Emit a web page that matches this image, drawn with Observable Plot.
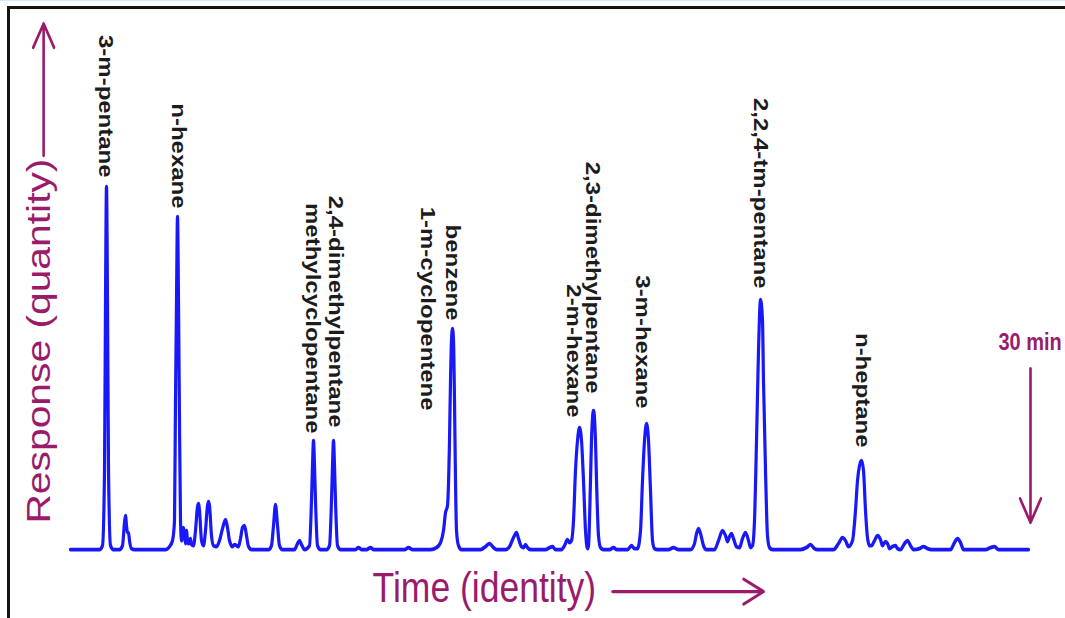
<!DOCTYPE html>
<html><head><meta charset="utf-8">
<script src="https://cdn.jsdelivr.net/npm/d3@7"></script>
<script src="https://cdn.jsdelivr.net/npm/@observablehq/plot@0.6"></script>
<style>
html,body{margin:0;padding:0;background:#fff;width:1065px;height:618px;overflow:hidden;}
#strip{position:absolute;left:0;top:0;width:1065px;height:1px;background:#c4f3fb;}
#frame{position:absolute;left:7px;top:6px;width:1100px;height:700px;border-top:3px solid #141414;border-left:3px solid #141414;}
#chart{position:absolute;left:0;top:0;}
</style></head><body>
<div id="strip"></div><div id="frame"></div><div id="chart"></div>
<script>
// Chromatogram trace: retention time (min) and detector response (arbitrary units)
const time = [0, 0.906, 1.0, 1.063, 1.094, 1.125, 1.156, 1.188, 1.25, 1.344,
  1.531, 1.625, 1.688, 1.719, 1.75, 1.781, 1.813, 1.844, 1.906, 2.0,
  2.969, 3.094, 3.188, 3.25, 3.281, 3.313, 3.344, 3.375, 3.406, 3.438, 3.469,
  3.531, 3.563, 3.594, 3.625, 3.656, 3.688, 3.75, 3.781, 3.844,
  3.906, 3.969, 4.0, 4.031, 4.094, 4.156, 4.219, 4.281, 4.313, 4.344, 4.406, 4.469,
  4.563, 4.656, 4.75, 4.844, 4.906, 4.969, 5.063, 5.125, 5.188, 5.25, 5.313, 5.375, 5.438, 5.5, 5.563, 5.656,
  6.188, 6.281, 6.344, 6.406, 6.469, 6.531, 6.625,
  7.0, 7.094, 7.156, 7.219, 7.313,
  7.469, 7.531, 7.563, 7.594, 7.625, 7.656, 7.719, 7.813,
  8.0, 8.094, 8.156, 8.188, 8.219, 8.25, 8.281, 8.344, 8.438,
  8.906, 9.0, 9.094, 9.25, 9.375, 9.469, 10.438, 10.563, 10.688,
  11.25, 11.438, 11.563, 11.656, 11.719, 11.781, 11.844, 11.875, 11.906, 11.938, 11.969, 12.0, 12.031, 12.063, 12.125, 12.219,
  12.813, 12.969, 13.094, 13.219, 13.313,
  13.594, 13.719, 13.844, 13.938, 14.0, 14.094, 14.156, 14.219, 14.281, 14.375,
  14.844, 14.969, 15.063, 15.156,
  15.344, 15.438, 15.531, 15.594, 15.656, 15.719, 15.781, 15.844, 15.906, 15.969, 16.031, 16.094, 16.156, 16.188, 16.25, 16.281, 16.344, 16.406, 16.438, 16.5, 16.563, 16.656,
  16.844, 16.969, 17.063,
  17.406, 17.531, 17.625, 17.719, 17.813, 17.875, 17.938, 18.0, 18.063, 18.125, 18.188, 18.25, 18.344,
  18.688, 18.844, 19.0,
  19.375, 19.5, 19.563, 19.625, 19.688, 19.781, 19.875,
  20.125, 20.25, 20.375, 20.469, 20.531, 20.594, 20.656, 20.719, 20.813, 20.906, 21.0, 21.094, 21.188, 21.25, 21.313, 21.375, 21.438, 21.5, 21.563, 21.625, 21.656, 21.719, 21.781, 21.844, 21.938,
  22.813, 23.0, 23.125, 23.25, 23.344,
  23.844, 24.0, 24.125, 24.219, 24.313, 24.438, 24.531, 24.594, 24.656, 24.719, 24.781, 24.844, 24.906, 24.969, 25.031, 25.125, 25.219, 25.313, 25.375, 25.469, 25.531, 25.594, 25.688, 25.781, 25.844, 25.938,
  26.063, 26.156, 26.25, 26.344, 26.531, 26.656, 26.781, 26.906,
  27.5, 27.625, 27.719, 27.813, 27.906,
  28.594, 28.75, 28.875, 29.0, 29.938];
const response = [0, 0, 4, 79, 249, 363, 249, 79, 4, 0,
  0, 4, 27, 34, 24, 17, 17, 9, 1, 0,
  0, 3, 9, 29, 149, 249, 333, 249, 129, 29, 9,
  22, 14, 6, 19, 9, 6, 11, 5, 4,
  19, 43, 46, 39, 9, 4, 19, 44, 48, 44, 14, 4,
  3, 9, 21, 30, 22, 9, 3, 5, 4, 3, 11, 22, 24, 14, 3, 0,
  0, 4, 24, 45, 24, 4, 0,
  0, 6, 9, 5, 0,
  4, 49, 84, 109, 84, 49, 4, 0,
  0, 4, 49, 84, 109, 84, 49, 4, 0,
  0, 2, 0, 0, 2, 0, 0, 2, 0,
  0, 2, 7, 19, 37, 44, 109, 169, 209, 221, 209, 149, 69, 19, 4, 0,
  0, 3, 6, 2, 0,
  0, 3, 12, 17, 11, 3, 2, 5, 2, 0,
  0, 2, 3, 0,
  0, 4, 10, 7, 9, 29, 79, 109, 122, 109, 69, 19, 1, 4, 69, 109, 139, 109, 69, 14, 2, 0,
  0, 2, 0,
  0, 4, 1, 1, 19, 69, 109, 126, 109, 59, 9, 1, 0,
  0, 2, 0,
  0, 6, 16, 21, 16, 4, 0,
  0, 9, 19, 14, 8, 13, 16, 11, 3, 2, 11, 17, 9, 2, 4, 29, 109, 199, 250, 229, 169, 79, 14, 2, 0,
  0, 2, 5, 1, 0,
  0, 6, 12, 9, 3, 9, 39, 69, 84, 89, 79, 39, 12, 4, 4, 9, 14, 10, 4, 8, 6, 1, 3, 4, 1, 0,
  6, 9, 4, 0, 1, 3, 1, 0,
  0, 7, 11, 7, 0,
  0, 2, 3, 0, 0];

// Peak labels
const peakNames = ["3-m-pentane", "n-hexane", "methylcyclopentane", "2,4-dimethylpentane",
  "1-m-cyclopentene", "benzene", "2-m-hexane", "2,3-dimethylpentane", "3-m-hexane",
  "2,2,4-tm-pentane", "n-heptane"];
const labelTime = [1.09, 3.38, 7.56, 8.28, 11.16, 11.94, 15.72, 16.31, 17.88, 21.56, 24.75];
const labelResponse = [372, 341, 116, 122, 139, 229, 132, 156, 141, 261, 102];

// Axis captions and arrows (in time / response units)
const yTitle = {text: "Response (quantity)", t: -0.97, r: 26};
const xTitle = {text: "Time (identity)", t: 9.44, r: -39};
const endNote = {text: "30 min", t: 29.0, r: 207};
const arrows = [
  {t1: -0.84, r1: 394, t2: -0.84, r2: 526},
  {t1: 16.94, r1: -42, t2: 21.66, r2: -42},
  {t1: 30.0, r1: 181, t2: 30.0, r2: 27}
];

const trace = time.map((t, i) => ({t, r: response[i]}));
const labels = peakNames.map((name, i) => ({name, t: labelTime[i], r: labelResponse[i]}));

const accent = "#9b1b6b";
const font = "'Liberation Sans', Arial, Helvetica, sans-serif";
const W = 1065, H = 618, S = 1.2; // reference image is stretched vertically
const h = H / S;

const svg = Plot.plot({
  width: W,
  height: h,
  margin: 0,
  x: {domain: [0, 30], range: [70, 1030], axis: null},
  y: {domain: [0, 400], range: [549 / S, 149 / S], axis: null},
  style: {background: "transparent", fontFamily: font, overflow: "visible"},
  marks: [
    Plot.line(trace, {x: "t", y: "r", curve: "monotone-x", stroke: "#1818f8", strokeWidth: 3.2, strokeLinejoin: "round"}),
    Plot.text(labels, {x: "t", y: "r", text: "name", rotate: 90, textAnchor: "end",
      fontSize: 20, fontWeight: "bold", fill: "#1c1c1c", fontFamily: font}),
    Plot.text([yTitle], {x: "t", y: "r", text: "text", rotate: -90, textAnchor: "start",
      fontSize: 34, fill: accent, fontFamily: font}),
    Plot.text([xTitle], {x: "t", y: "r", text: "text", textAnchor: "start",
      fontSize: 35.5, fill: accent, fontFamily: font}),
    Plot.text([endNote], {x: "t", y: "r", text: "text", textAnchor: "start",
      fontSize: 20, fontWeight: "bold", fill: accent, fontFamily: font}),
    Plot.arrow(arrows, {x1: "t1", y1: "r1", x2: "t2", y2: "r2", stroke: accent,
      strokeWidth: 2.6, headLength: 13, headAngle: 55})
  ]
});
svg.setAttribute("preserveAspectRatio", "none");
svg.setAttribute("height", H);
svg.style.width = W + "px";
svg.style.height = H + "px";
svg.style.maxWidth = "none";
document.getElementById("chart").append(svg);
</script>
</body></html>
